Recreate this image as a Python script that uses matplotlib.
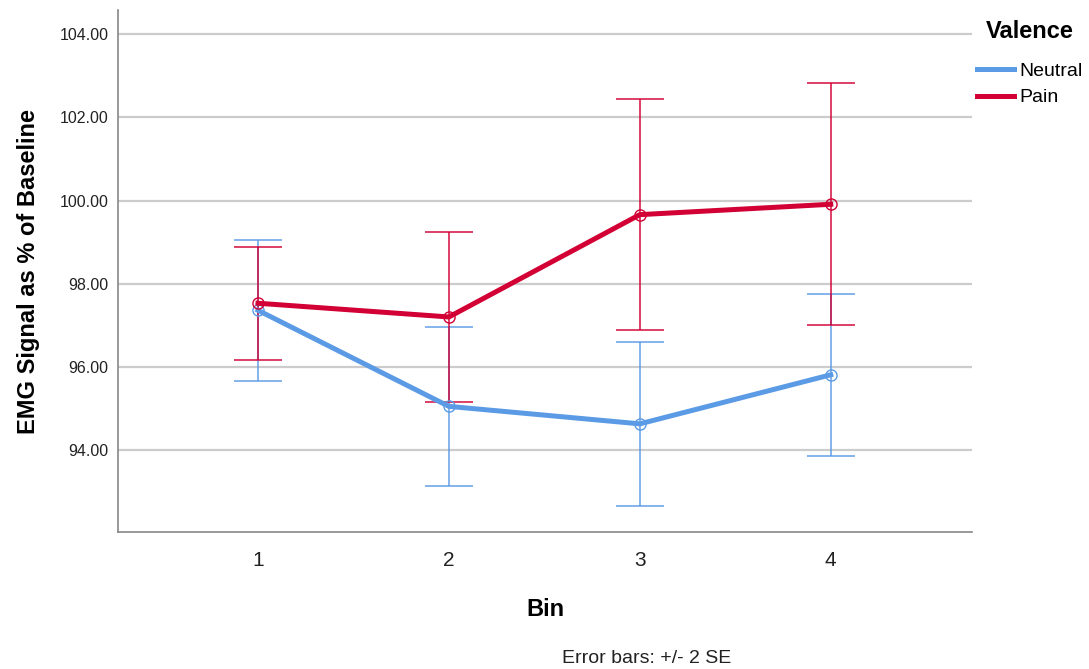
import matplotlib.pyplot as plt
from matplotlib.lines import Line2D

plt.rcParams["font.family"] = ["Liberation Sans", "DejaVu Sans"]

# 数据
bins = [1, 2, 3, 4]
neutral_mean = [97.36, 95.05, 94.63, 95.81]
neutral_err = [1.70, 1.92, 1.98, 1.95]
pain_mean = [97.53, 97.20, 99.66, 99.91]
pain_err = [1.36, 2.05, 2.77, 2.91]

y_ticks = [94, 96, 98, 100, 102, 104]

blue = "#5b9be6"
red = "#d20034"

fig = plt.figure(figsize=(10.89, 6.69), dpi=100)
ax = fig.add_axes([0.1084, 0.2048, 0.7842, 0.7802])

# 网格线
for t in y_ticks:
    ax.axhline(t, color="#cccccc", linewidth=1.6, zorder=0)

# 误差线 (+/- 2 SE)
for mean, err, c in [(neutral_mean, neutral_err, blue), (pain_mean, pain_err, red)]:
    ax.errorbar(bins, mean, yerr=err, fmt="none", ecolor=c, elinewidth=1.4,
                capsize=17, capthick=1.4, alpha=0.75, zorder=2)

# 均值折线
ax.plot(bins, neutral_mean, color=blue, linewidth=3.6, marker="o", markersize=8,
        markerfacecolor="none", markeredgewidth=1.0, zorder=3)
ax.plot(bins, pain_mean, color=red, linewidth=3.6, marker="o", markersize=8,
        markerfacecolor="none", markeredgewidth=1.0, zorder=4)

ax.set_xlim(0.267, 4.74)
ax.set_ylim(92.03, 104.58)
ax.set_xticks(bins)
ax.set_xticklabels([str(b) for b in bins], fontsize=15, color="#222222")
ax.set_yticks(y_ticks)
ax.set_yticklabels([f"{t:.2f}" for t in y_ticks], fontsize=11.5, color="#222222")
ax.tick_params(axis="y", length=0, pad=7)
ax.tick_params(axis="x", length=0, pad=14)

for s in ["top", "right"]:
    ax.spines[s].set_visible(False)
for s in ["left", "bottom"]:
    ax.spines[s].set_color("#888888")
    ax.spines[s].set_linewidth(1.2)

ax.set_ylabel("EMG Signal as % of Baseline", fontsize=17, fontweight="bold", labelpad=14)
ax.set_xlabel("Bin", fontsize=17, fontweight="bold", labelpad=20)

# 图例（只画线，不带标记）
handles = [Line2D([], [], color=blue, linewidth=3.6),
           Line2D([], [], color=red, linewidth=3.6)]
leg = ax.legend(handles, ["Neutral", "Pain"], title="Valence", loc="upper left",
                bbox_to_anchor=(0.897, 0.97), bbox_transform=fig.transFigure,
                frameon=False, fontsize=14, handlelength=1.9, handletextpad=0.3,
                labelspacing=0.45, borderpad=0, borderaxespad=0)
leg.get_title().set_fontsize(17)
leg.get_title().set_fontweight("bold")
leg._legend_box.sep = 14

fig.text(0.594, 0.016, "Error bars: +/- 2 SE", fontsize=14, ha="center",
         va="center", color="#222222")

fig.savefig("out.png", dpi=100)
